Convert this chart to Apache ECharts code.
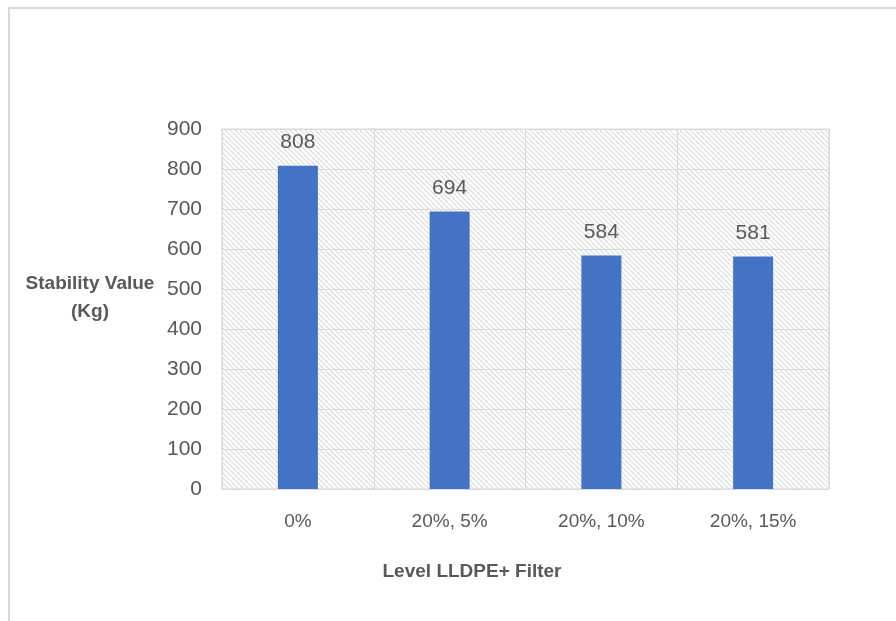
<!DOCTYPE html>
<html><head><meta charset="utf-8">
<script src="https://cdn.jsdelivr.net/npm/echarts@6/dist/echarts.min.js"></script>
<style>html,body{margin:0;padding:0;background:#fff}#c{width:896px;height:621px}</style>
</head><body><div id="c"></div>
<script>
const categories = ['0%', '20%, 5%', '20%, 10%', '20%, 15%'];
const stabilityValues = [808, 694, 584, 581];
const yTicks = [0, 100, 200, 300, 400, 500, 600, 700, 800, 900];

function hatch() {
  const c = document.createElement('canvas');
  c.width = 5; c.height = 5;
  const g = c.getContext('2d');
  g.fillStyle = '#fff'; g.fillRect(0, 0, 5, 5);
  g.strokeStyle = '#d9d9d9'; g.lineWidth = 1.1;
  for (let k = -5; k <= 5; k += 5) {
    g.beginPath(); g.moveTo(k, 0); g.lineTo(k + 5, 5); g.stroke();
  }
  return c;
}

const chart = echarts.init(document.getElementById('c'));
const font = '"Liberation Sans", Arial, sans-serif';
chart.setOption({
  animation: false,
  graphic: [
    { type: 'rect', shape: { x: 9, y: 8, width: 900, height: 700 }, style: { fill: 'none', stroke: '#d9d9d9', lineWidth: 2 }, silent: true },
    { type: 'text', x: 90, y: 270, style: { text: 'Stability Value\n(Kg)', fill: '#595959', font: 'bold 19px ' + font, textAlign: 'center', lineHeight: 28 }, z: 10 },
    { type: 'text', x: 472, y: 562, style: { text: 'Level LLDPE+ Filter', fill: '#595959', font: 'bold 19px ' + font, textAlign: 'center' }, z: 10 }
  ],
  grid: { left: 222, top: 129, width: 607, height: 360, show: true, borderColor: '#d9d9d9', borderWidth: 1,
          backgroundColor: { image: hatch(), repeat: 'repeat' } },
  xAxis: {
    type: 'category', data: categories,
    axisLine: { show: false }, axisTick: { show: false },
    axisLabel: { color: '#595959', fontSize: 19, fontFamily: font, margin: 23 },
    splitLine: { show: true, lineStyle: { color: '#d9d9d9', width: 1 } }
  },
  yAxis: {
    type: 'value', min: yTicks[0], max: yTicks[yTicks.length - 1], interval: 100,
    axisLine: { show: false }, axisTick: { show: false },
    axisLabel: { color: '#595959', fontSize: 21, fontFamily: font, margin: 20 },
    splitLine: { lineStyle: { color: '#d9d9d9', width: 1 } }
  },
  series: [{
    type: 'bar', data: stabilityValues, barWidth: 40,
    itemStyle: { color: '#4472C4' },
    label: { show: true, position: 'top', distance: 13, color: '#595959', fontSize: 21, fontFamily: font }
  }]
});
</script></body></html>
